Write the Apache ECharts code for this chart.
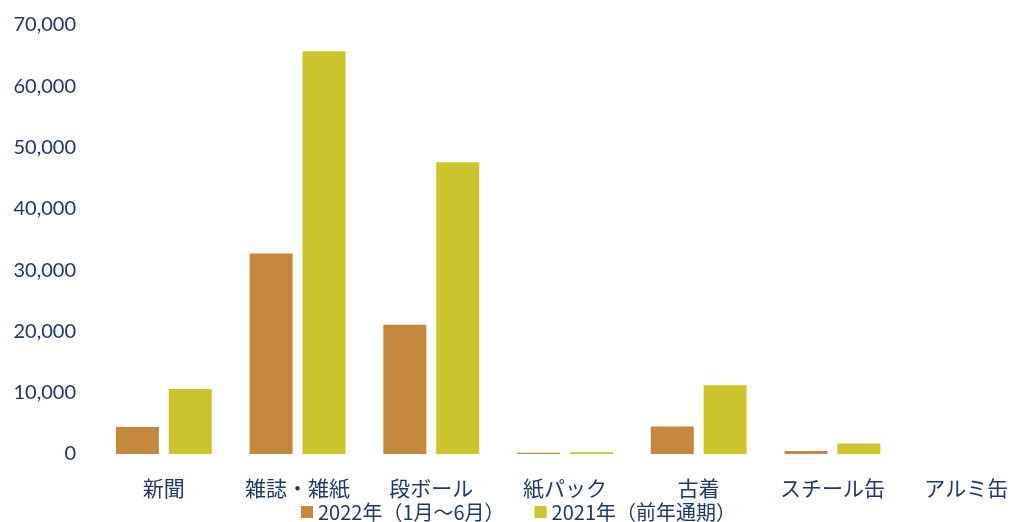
<!DOCTYPE html>
<html><head><meta charset="utf-8">
<script src="https://cdn.jsdelivr.net/npm/echarts@6/dist/echarts.min.js"></script>
<style>html,body{margin:0;padding:0;background:#fff}#c{width:1033px;height:522px}</style>
</head><body><div id="c"></div>
<script>
const categories = ['新聞', '雑誌・雑紙', '段ボール', '紙パック', '古着', 'スチール缶', 'アルミ缶'];
const series2022 = [4400, 32700, 21100, 200, 4500, 500, 0];
const series2021 = [10600, 65700, 47600, 300, 11200, 1700, 0];
const seriesNames = ['2022年（1月～6月）', '2021年（前年通期）'];
const yTicks = [0, 10000, 20000, 30000, 40000, 50000, 60000, 70000];

const chart = echarts.init(document.getElementById('c'));
const txt = '#1f3864';
chart.setOption({
  animation: false,
  backgroundColor: '#fff',
  grid: { left: 97, width: 959, top: 25, height: 429 },
  legend: {
    data: seriesNames, left: 296, top: 497, itemWidth: 12, itemHeight: 12, itemGap: 30,
    icon: 'rect',
    textStyle: { color: txt, fontSize: 20, fontFamily: 'Noto Sans CJK JP' }
  },
  xAxis: {
    type: 'category', data: categories,
    axisLine: { show: false }, axisTick: { show: false },
    axisLabel: { color: txt, fontSize: 21, fontFamily: 'Noto Sans CJK JP', margin: 24,
      interval: 0, hideOverlap: false }
  },
  yAxis: {
    type: 'value', min: yTicks[0], max: yTicks[yTicks.length - 1], interval: 10000,
    splitLine: { show: false }, axisLine: { show: false }, axisTick: { show: false },
    axisLabel: { color: txt, fontSize: 20, fontFamily: 'Lato', margin: 21,
      formatter: v => v.toLocaleString('en-US') }
  },
  series: [
    { name: seriesNames[0], type: 'bar', data: series2022, barWidth: 43, barGap: '23%',
      itemStyle: { color: '#c4893e' } },
    { name: seriesNames[1], type: 'bar', data: series2021, barWidth: 43,
      itemStyle: { color: '#cbc42c' } }
  ]
});
</script></body></html>
